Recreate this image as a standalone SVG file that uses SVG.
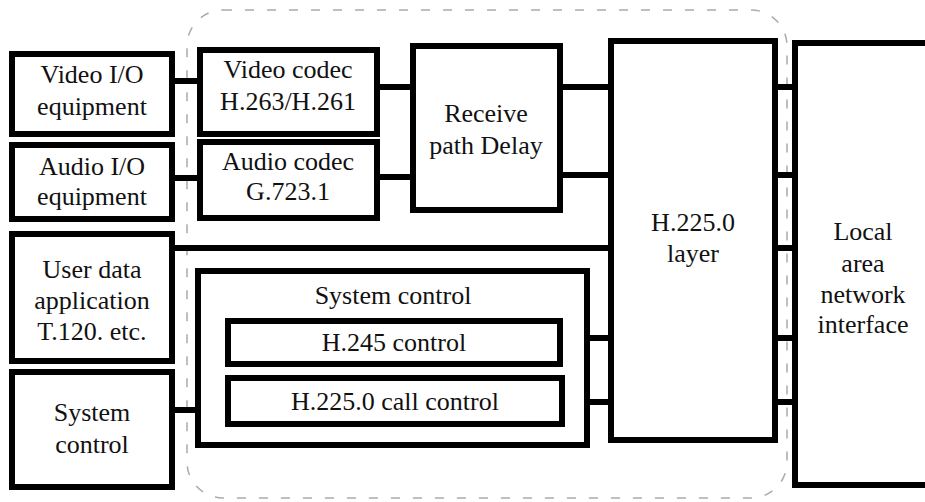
<svg xmlns="http://www.w3.org/2000/svg" width="925" height="502" viewBox="0 0 925 502">
<style>
.box{fill:#fff;stroke:#000;stroke-width:6}
.t{font-family:"Liberation Serif","Times New Roman",serif;font-size:26px;fill:#111;text-anchor:middle}
.c{stroke:#000;stroke-width:6;fill:none}
.frame{fill:none;stroke:#aaa;stroke-width:1.5;stroke-dasharray:9 13}
</style>
<rect class="frame" x="187" y="10" width="600" height="488" rx="36"/>
<g id="connectors">
<line class="c" x1="172" y1="81" x2="200" y2="81"/>
<line class="c" x1="172" y1="178" x2="200" y2="178"/>
<line class="c" x1="377" y1="87" x2="413" y2="87"/>
<line class="c" x1="377" y1="177" x2="413" y2="177"/>
<line class="c" x1="560" y1="87" x2="611" y2="87"/>
<line class="c" x1="560" y1="175" x2="611" y2="175"/>
<line class="c" x1="172" y1="248" x2="611" y2="248"/>
<line class="c" x1="172" y1="410" x2="198" y2="410"/>
<line class="c" x1="587" y1="338" x2="611" y2="338"/>
<line class="c" x1="587" y1="402" x2="611" y2="402"/>
<line class="c" x1="775" y1="87" x2="795" y2="87"/>
<line class="c" x1="775" y1="175" x2="795" y2="175"/>
<line class="c" x1="775" y1="248" x2="795" y2="248"/>
<line class="c" x1="775" y1="338" x2="795" y2="338"/>
<line class="c" x1="775" y1="402" x2="795" y2="402"/>
</g>
<g id="video-io"><rect class="box" x="12" y="54" width="160" height="80"/><text class="t" x="92" y="83">Video I/O</text><text class="t" x="92" y="115">equipment</text></g>
<g id="audio-io"><rect class="box" x="12" y="145" width="160" height="74"/><text class="t" x="92" y="175">Audio I/O</text><text class="t" x="92" y="205">equipment</text></g>
<g id="user-data"><rect class="box" x="12" y="234" width="160" height="127"/><text class="t" x="92" y="278">User data</text><text class="t" x="92" y="309">application</text><text class="t" x="92" y="340">T.120. etc.</text></g>
<g id="system-control-left"><rect class="box" x="12" y="372" width="160" height="115"/><text class="t" x="92" y="421">System</text><text class="t" x="92" y="453">control</text></g>
<g id="video-codec"><rect class="box" x="200" y="50" width="177" height="84"/><text class="t" x="288" y="78">Video codec</text><text class="t" x="288" y="110">H.263/H.261</text></g>
<g id="audio-codec"><rect class="box" x="200" y="142" width="177" height="76"/><text class="t" x="288" y="170">Audio codec</text><text class="t" x="288" y="200">G.723.1</text></g>
<g id="receive-delay"><rect class="box" x="413" y="46" width="147" height="164"/><text class="t" x="486" y="122">Receive</text><text class="t" x="486" y="154">path Delay</text></g>
<g id="h2250-layer"><rect class="box" x="611" y="41" width="164" height="399"/><text class="t" x="693" y="231">H.225.0</text><text class="t" x="693" y="262">layer</text></g>
<g id="lan"><rect class="box" x="795" y="43" width="140" height="442"/><text class="t" x="863" y="240">Local</text><text class="t" x="863" y="272">area</text><text class="t" x="863" y="303">network</text><text class="t" x="863" y="333">interface</text></g>
<g id="system-control"><rect class="box" x="198" y="271" width="389" height="174"/><text class="t" x="393" y="304">System control</text></g>
<g id="h245"><rect class="box" x="228" y="321" width="332" height="43"/><text class="t" x="394" y="351">H.245 control</text></g>
<g id="h2250-call"><rect class="box" x="228" y="378" width="334" height="46"/><text class="t" x="395" y="410">H.225.0 call control</text></g>
</svg>
